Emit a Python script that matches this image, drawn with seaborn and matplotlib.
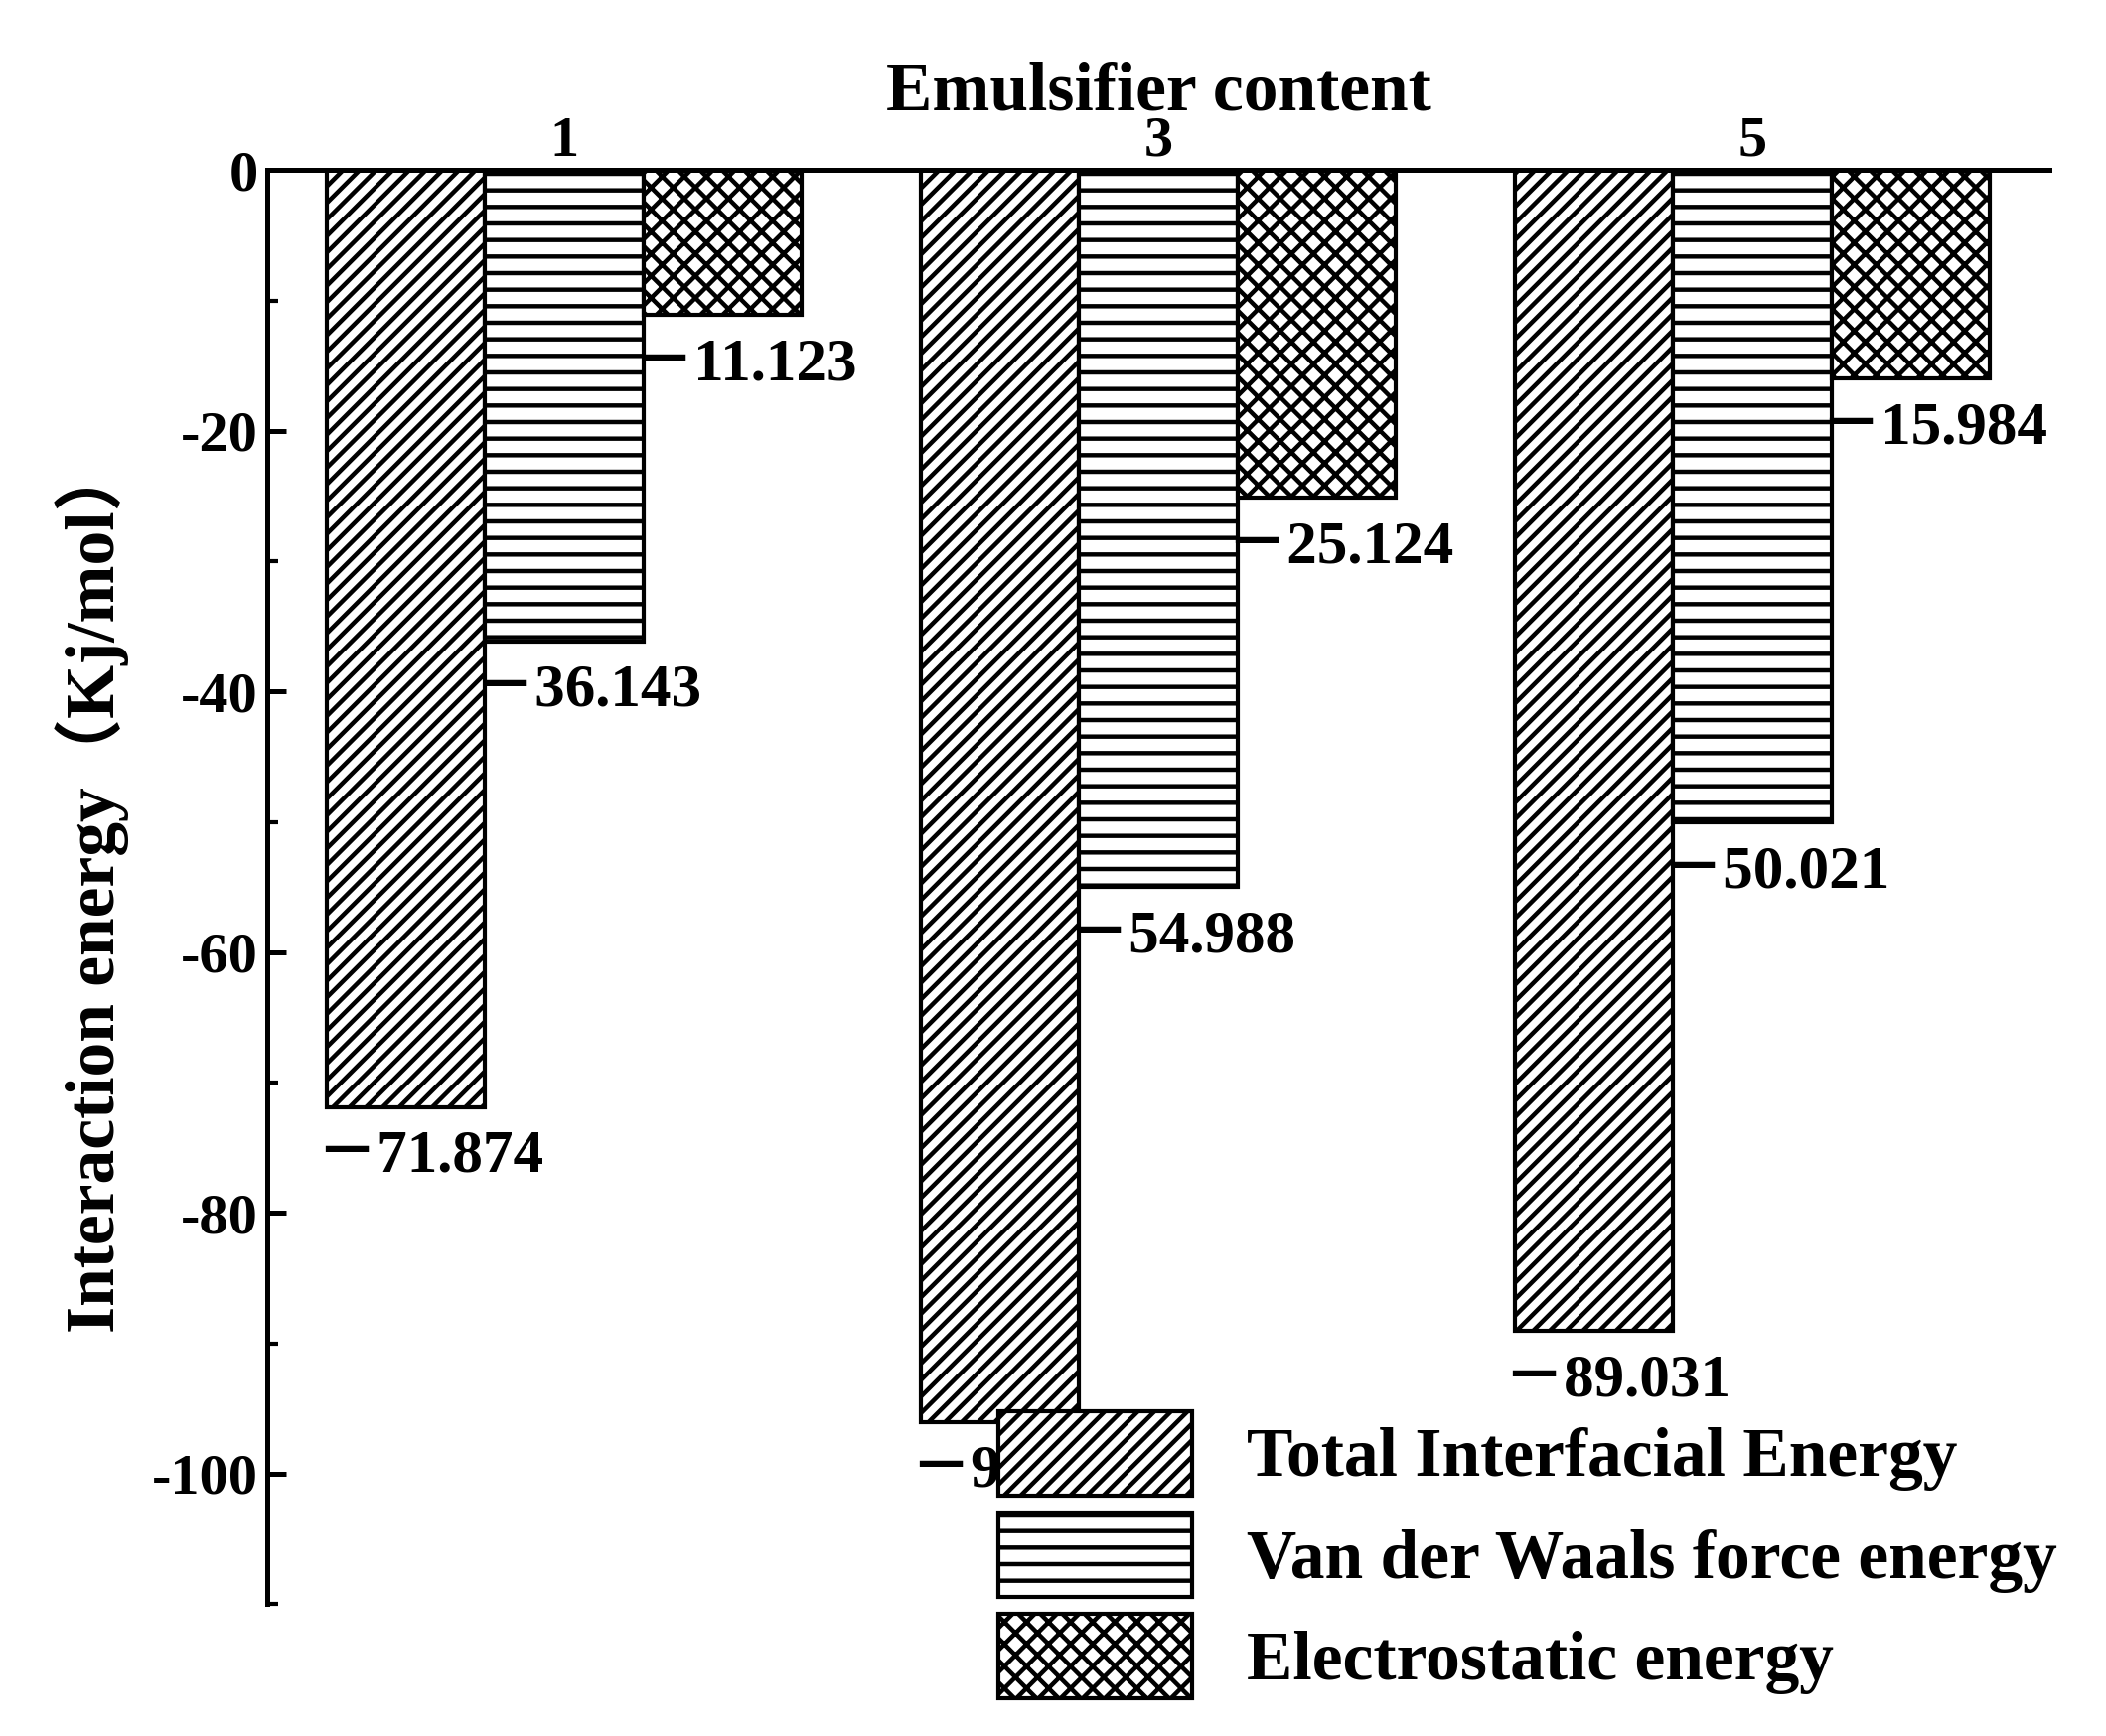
import pandas as pd
import matplotlib.pyplot as plt
import seaborn as sns

# values
contents = ["1", "3", "5"]
series = ["Total Interfacial Energy", "Van der Waals force energy", "Electrostatic energy"]
total_energy = [-71.874, -96.023, -89.031]
vdw_energy = [-36.143, -54.988, -50.021]
elec_energy = [-11.123, -25.124, -15.984]
hatches = ["////", "--", "xxx"]

df = pd.DataFrame({
    "content": contents * 3,
    "series": [series[0]] * 3 + [series[1]] * 3 + [series[2]] * 3,
    "energy": total_energy + vdw_energy + elec_energy,
})

sns.set_theme(style="ticks")
plt.rcParams["font.family"] = ["Liberation Serif", "Noto Sans CJK SC"]
plt.rcParams["font.weight"] = "bold"
plt.rcParams["hatch.linewidth"] = 1.6
plt.rcParams["axes.unicode_minus"] = False
for key in ["text.color", "axes.labelcolor", "xtick.color", "ytick.color", "axes.edgecolor"]:
    plt.rcParams[key] = "black"

fig = plt.figure(figsize=(10.6, 8.74), dpi=200)
ax = fig.add_axes([0.127, 0.076, 0.846, 0.826])

sns.barplot(data=df, x="content", y="energy", hue="series", order=contents,
            hue_order=series, width=0.8, ax=ax, color="white")

for cont, hatch in zip(ax.containers, hatches):
    for bar in cont:
        bar.set_facecolor("white")
        bar.set_edgecolor("black")
        bar.set_linewidth(1.5)
        bar.set_hatch(hatch)
        val = bar.get_height()
        ax.annotate(f"－{abs(val):.3f}", (bar.get_x(), val), xytext=(-4, -8),
                    textcoords="offset points", ha="left", va="top",
                    fontsize=22, fontweight="bold")

ax.set_xlim(-0.5, 2.5)
ax.set_ylim(-110, 0)
ax.set_yticks([0, -20, -40, -60, -80, -100])
ax.set_yticks([-10, -30, -50, -70, -90, -110], minor=True)
ax.xaxis.tick_top()
ax.xaxis.set_label_position("top")
ax.set_xlabel("Emulsifier content", fontsize=25, fontweight="bold", labelpad=2)
ax.set_ylabel("Interaction energy（Kj/mol）", fontsize=25, fontweight="bold", labelpad=8)
ax.tick_params(axis="both", direction="in", width=1.8, length=7, labelsize=21)
ax.tick_params(axis="x", pad=1)
ax.tick_params(axis="y", which="minor", direction="in", width=1.5, length=4)
for lab in ax.get_xticklabels() + ax.get_yticklabels():
    lab.set_fontweight("bold")

for side in ["right", "bottom"]:
    ax.spines[side].set_visible(False)
for side in ["left", "top"]:
    ax.spines[side].set_linewidth(1.8)

leg = ax.legend(loc="lower right", bbox_to_anchor=(1.02, -0.085), frameon=False,
                prop={"size": 25, "weight": "bold"}, handlelength=2.8,
                handleheight=1.5, labelspacing=0.25, handletextpad=0.8,
                borderaxespad=0)
for h, hatch in zip(leg.legend_handles, hatches):
    h.set_facecolor("white")
    h.set_edgecolor("black")
    h.set_linewidth(1.5)
    h.set_hatch(hatch)

fig.savefig("out.png", dpi=200)
